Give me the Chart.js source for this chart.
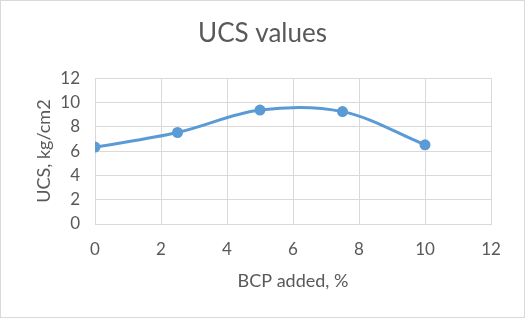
<!DOCTYPE html>
<html><head><meta charset="utf-8">
<script src="https://cdn.jsdelivr.net/npm/chart.js@4/dist/chart.umd.min.js"></script>
<style>html,body{margin:0;padding:0;background:#fff}canvas{display:block}</style>
</head><body>
<canvas id="c" width="525" height="318"></canvas>
<script>
const bcpAdded = [0, 2.5, 5, 7.5, 10];
const ucsValues = [6.33, 7.53, 9.38, 9.25, 6.52];
const xTicks = [0, 2, 4, 6, 8, 10, 12];
const yTicks = [0, 2, 4, 6, 8, 10, 12];

const FONT = 'Lato, "Open Sans", sans-serif';
const TXT = '#595959';
const GRID = '#D9D9D9';

const borderPlugin = {
  id: 'outerBorder',
  afterDraw(chart) {
    const ctx = chart.ctx;
    ctx.save();
    ctx.strokeStyle = '#D9D9D9';
    ctx.lineWidth = 1;
    ctx.strokeRect(0.5, 0.5, chart.width - 1, chart.height - 1);
    ctx.restore();
  }
};

new Chart(document.getElementById('c'), {
  type: 'scatter',
  data: {
    datasets: [{
      label: 'UCS',
      data: bcpAdded.map((x, i) => ({x: x, y: ucsValues[i]})),
      showLine: true,
      tension: 0.35,
      borderColor: '#5B9BD5',
      backgroundColor: '#5B9BD5',
      borderWidth: 3,
      pointRadius: 5.5,
      pointBorderWidth: 0,
      pointBackgroundColor: '#5B9BD5'
    }]
  },
  options: {
    responsive: false,
    animation: false,
    layout: {padding: {left: 0, right: 0, top: 0, bottom: 0}},
    plugins: {
      legend: {display: false},
      tooltip: {enabled: false},
      title: {
        display: true,
        text: 'UCS values',
        color: TXT,
        font: {family: FONT, size: 26, weight: 'normal'},
        padding: {top: 18, bottom: 29}
      }
    },
    scales: {
      x: {
        type: 'linear',
        min: 0, max: 12,
        afterBuildTicks(s) { s.ticks = xTicks.map(v => ({value: v})); },
        afterFit(s) { s.height = 94; },
        grid: {color: GRID, lineWidth: 1, drawTicks: false},
        border: {color: GRID, width: 1},
        ticks: {color: TXT, font: {family: FONT, size: 17}, padding: 15, maxRotation: 0},
        title: {display: true, text: 'BCP added, %', color: TXT, font: {family: FONT, size: 18}, padding: {top: 0, bottom: 26}}
      },
      y: {
        type: 'linear',
        min: 0, max: 12,
        afterBuildTicks(s) { s.ticks = yTicks.map(v => ({value: v})); },
        afterFit(s) { s.width = 95; },
        grid: {color: GRID, lineWidth: 1, drawTicks: false},
        border: {color: GRID, width: 1},
        ticks: {color: TXT, font: {family: FONT, size: 17}, padding: 15},
        title: {display: true, text: 'UCS, kg/cm2', color: TXT, font: {family: FONT, size: 18}, padding: {top: 33, bottom: 0}}
      },
      yRight: {
        type: 'linear',
        position: 'right',
        min: 0, max: 12,
        afterFit(s) { s.width = 34; },
        grid: {display: false, drawTicks: false},
        border: {display: false},
        ticks: {display: false}
      }
    }
  },
  plugins: [borderPlugin]
});
</script>
</body></html>
